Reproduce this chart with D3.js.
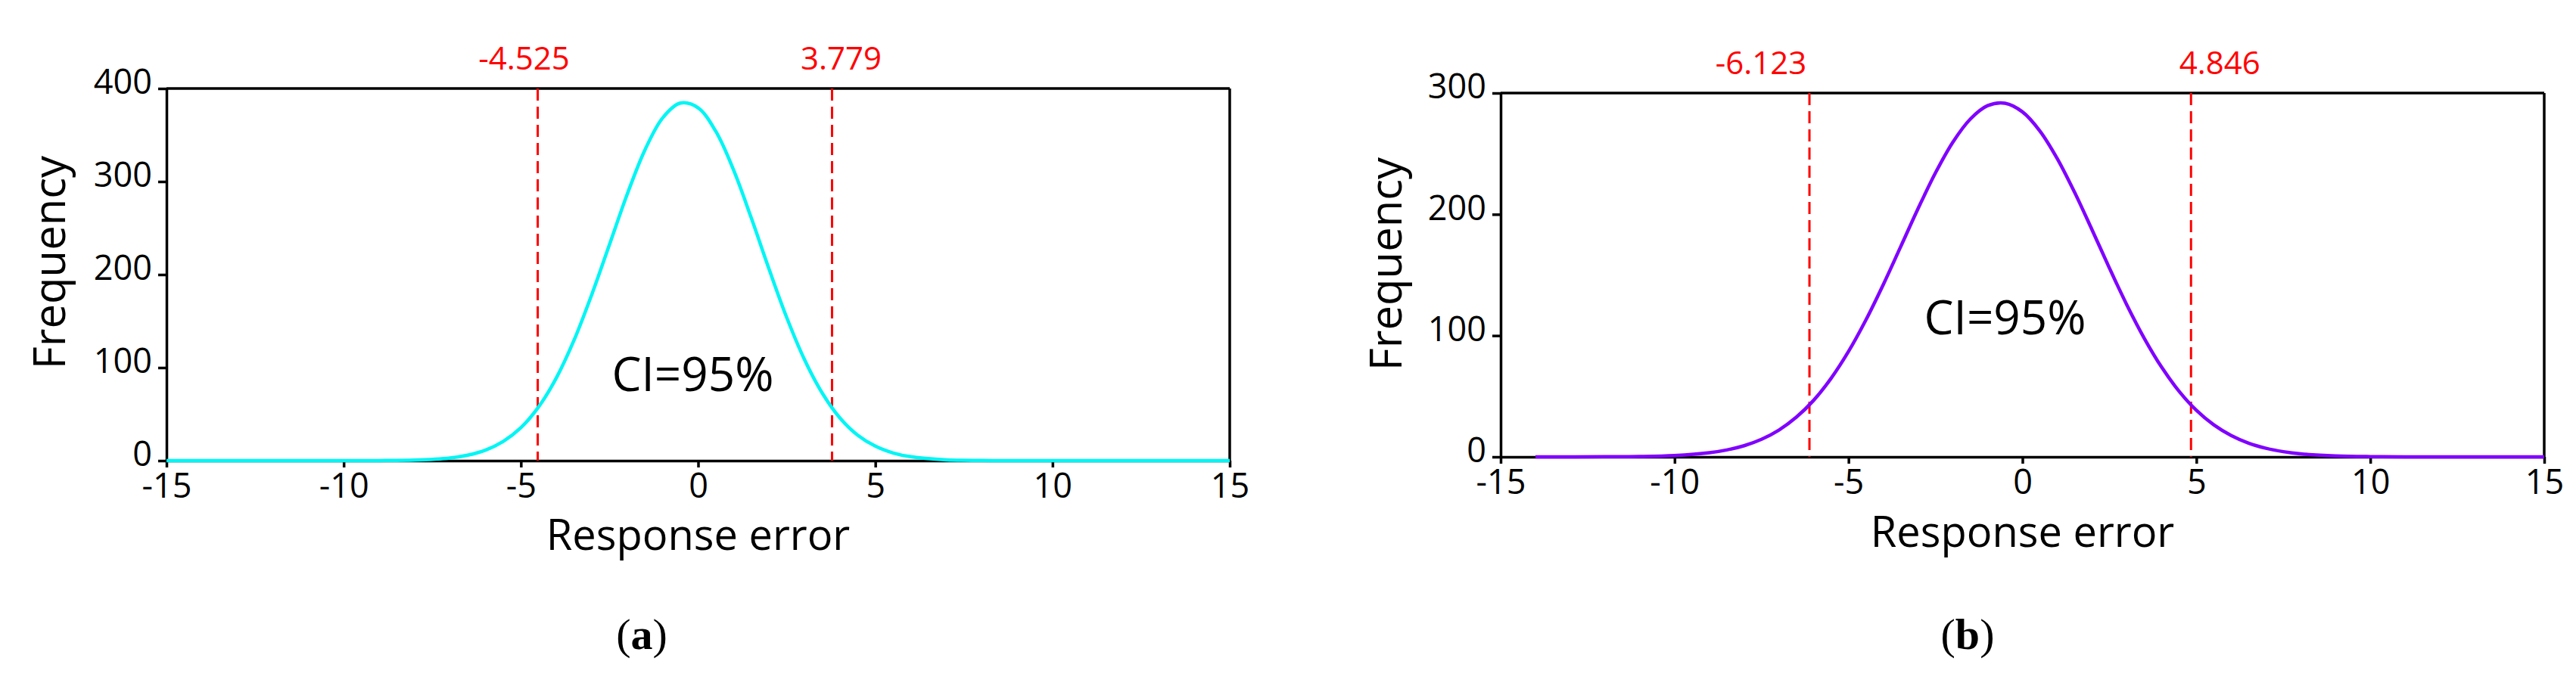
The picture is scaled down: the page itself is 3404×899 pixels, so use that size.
<!DOCTYPE html>
<html>
<head>
<meta charset="utf-8">
<script src="https://cdn.jsdelivr.net/npm/d3@7"></script>
<style>
  html, body { margin: 0; padding: 0; background: #fff; }
  svg { display: block; }
</style>
</head>
<body>
<svg id="chart" width="3404" height="899"></svg>
<script>
// ---------- DATA ----------
const xTicks = [-15, -10, -5, 0, 5, 10, 15];
const yTicksA = [0, 100, 200, 300, 400];
const yTicksB = [0, 100, 200, 300];

const errA = [-15, -12, -10, -9, -8, -7, -6.5, -6, -5.5, -5, -4.5, -4, -3.5, -3, -2.5, -2, -1.5, -1, -0.5, 0, 0.5, 1, 1.5, 2, 2.5, 3, 3.5, 4, 4.5, 5, 5.5, 6, 7, 8, 9, 12, 15];
const freqA = [0, 0, 0, 0.1, 0.6, 2.9, 5.9, 11.3, 20.6, 35.4, 57.8, 88.9, 129.5, 178.5, 232.3, 286.4, 334, 368.4, 384.3, 379.2, 353.9, 312.5, 260.9, 206.1, 153.9, 108.8, 72.8, 46, 27.5, 15.6, 8.3, 4.2, 0.9, 0.2, 0, 0, 0];

const errB = [-14, -12, -11, -10, -9, -8.5, -8, -7.5, -7, -6.5, -6, -5.5, -5, -4.5, -4, -3.5, -3, -2.5, -2, -1.5, -1, -0.5, 0, 0.5, 1, 1.5, 2, 2.5, 3, 3.5, 4, 4.5, 5, 5.5, 6, 6.5, 7, 7.5, 8, 9, 10, 11, 13, 15];
const freqB = [0, 0.1, 0.3, 1.1, 3.4, 5.7, 9.2, 14.5, 22.1, 32.7, 46.7, 64.8, 86.9, 112.9, 142.1, 173.3, 204.7, 234.2, 259.5, 278.5, 289.6, 291.6, 284.5, 268.8, 246, 218.1, 187.3, 155.7, 125.4, 97.9, 74, 54.2, 38.4, 26.4, 17.6, 11.3, 7.1, 4.3, 2.5, 0.8, 0.2, 0.05, 0, 0];

const ciA = [-4.525, 3.779];
const ciB = [-6.123, 4.846];
const ciLabelsA = ["-4.525", "3.779"];
const ciLabelsB = ["-6.123", "4.846"];

const xTitle = "Response error";
const yTitle = "Frequency";
const ciText = "CI=95%";
const panelLetters = ["a", "b"];

// ---------- LAYOUT ----------
const panels = [
  { err: errA, freq: freqA, ci: ciA, ciLabels: ciLabelsA, yTicks: yTicksA, yMax: 400,
    left: 220, right: 1625, top: 117, bottom: 609, color: "#00F5F5",
    labelOffsets: [-18, 12], labelY: 92, ciPos: [-0.15, 75], yTitleX: 86, yTitleY: 347,
    xTitleY: 727, letterX: 848, letterY: 858, letter: panelLetters[0] },
  { err: errB, freq: freqB, ci: ciB, ciLabels: ciLabelsB, yTicks: yTicksB, yMax: 300,
    left: 1983, right: 3362, top: 123, bottom: 604, color: "#8000FF",
    labelOffsets: [-64, 38], labelY: 98, ciPos: [-0.5, 101], yTitleX: 1852, yTitleY: 349,
    xTitleY: 723, letterX: 2600, letterY: 858, letter: panelLetters[1] }
];

const svg = d3.select("#chart");
const FONT = "'Open Sans', 'Noto Sans', sans-serif";

panels.forEach(p => {
  const x = d3.scaleLinear().domain([-15, 15]).range([p.left, p.right]);
  const y = d3.scaleLinear().domain([0, p.yMax]).range([p.bottom, p.top]);
  const g = svg.append("g");

  // top & right frame
  g.append("line").attr("x1", p.left).attr("x2", p.right).attr("y1", p.top).attr("y2", p.top)
    .attr("stroke", "#000").attr("stroke-width", 3.5);
  g.append("line").attr("x1", p.right).attr("x2", p.right).attr("y1", p.top).attr("y2", p.bottom)
    .attr("stroke", "#000").attr("stroke-width", 3.5);

  // axes
  const fmt = d => String(d);
  const xAxis = g.append("g").attr("transform", `translate(0,${p.bottom})`)
    .call(d3.axisBottom(x).tickValues(xTicks).tickSize(9).tickSizeOuter(0).tickPadding(8).tickFormat(fmt));
  const yAxis = g.append("g").attr("transform", `translate(${p.left},0)`)
    .call(d3.axisLeft(y).tickValues(p.yTicks).tickSize(11).tickSizeOuter(0).tickPadding(8).tickFormat(fmt));
  [xAxis, yAxis].forEach(a => {
    a.select(".domain").attr("stroke", "#000").attr("stroke-width", 3.5);
    a.selectAll(".tick line").attr("stroke", "#000").attr("stroke-width", 3.5);
    a.selectAll(".tick text").attr("font-family", FONT).attr("font-size", 45).attr("fill", "#000");
  });
  xAxis.selectAll(".tick text").attr("dy", "0.7em");
  yAxis.selectAll(".tick text").attr("dy", "0.15em");

  // CI dashed lines
  g.selectAll(".ci").data(p.ci).enter().append("line")
    .attr("x1", d => x(d)).attr("x2", d => x(d))
    .attr("y1", y(p.yMax)).attr("y2", y(0))
    .attr("stroke", "#FF0000").attr("stroke-width", 3).attr("stroke-dasharray", "16,8");

  // curve
  const pts = p.err.map((e, i) => [e, p.freq[i]]);
  g.append("path").datum(pts)
    .attr("fill", "none").attr("stroke", p.color).attr("stroke-width", 4.5)
    .attr("d", d3.line().x(d => x(d[0])).y(d => Math.min(y(d[1]), p.bottom)).curve(d3.curveCatmullRom.alpha(0.5)));

  // CI value labels
  g.selectAll(".cil").data(p.ci).enter().append("text")
    .attr("x", (d, i) => x(d) + p.labelOffsets[i]).attr("y", p.labelY)
    .attr("text-anchor", "middle").attr("font-family", FONT).attr("font-size", 42)
    .attr("fill", "#FF0000").text((d, i) => p.ciLabels[i]);

  // CI text
  g.append("text").attr("x", x(p.ciPos[0])).attr("y", y(p.ciPos[1]))
    .attr("text-anchor", "middle").attr("font-family", FONT).attr("font-size", 62)
    .attr("fill", "#000").text(ciText);

  // axis titles
  g.append("text").attr("x", (p.left + p.right) / 2).attr("y", p.xTitleY)
    .attr("text-anchor", "middle").attr("font-family", FONT).attr("font-size", 56)
    .attr("fill", "#000").text(xTitle);
  g.append("text").attr("transform", `translate(${p.yTitleX},${p.yTitleY}) rotate(-90)`)
    .attr("text-anchor", "middle").attr("font-family", FONT).attr("font-size", 58)
    .attr("fill", "#000").text(yTitle);

  // panel letter
  const t = g.append("text").attr("x", p.letterX).attr("y", p.letterY)
    .attr("text-anchor", "middle").attr("font-family", "'Liberation Serif', 'DejaVu Serif', serif")
    .attr("font-size", 58).attr("fill", "#000");
  t.append("tspan").text("(");
  t.append("tspan").attr("font-weight", "bold").text(p.letter);
  t.append("tspan").text(")");
});
</script>
</body>
</html>
